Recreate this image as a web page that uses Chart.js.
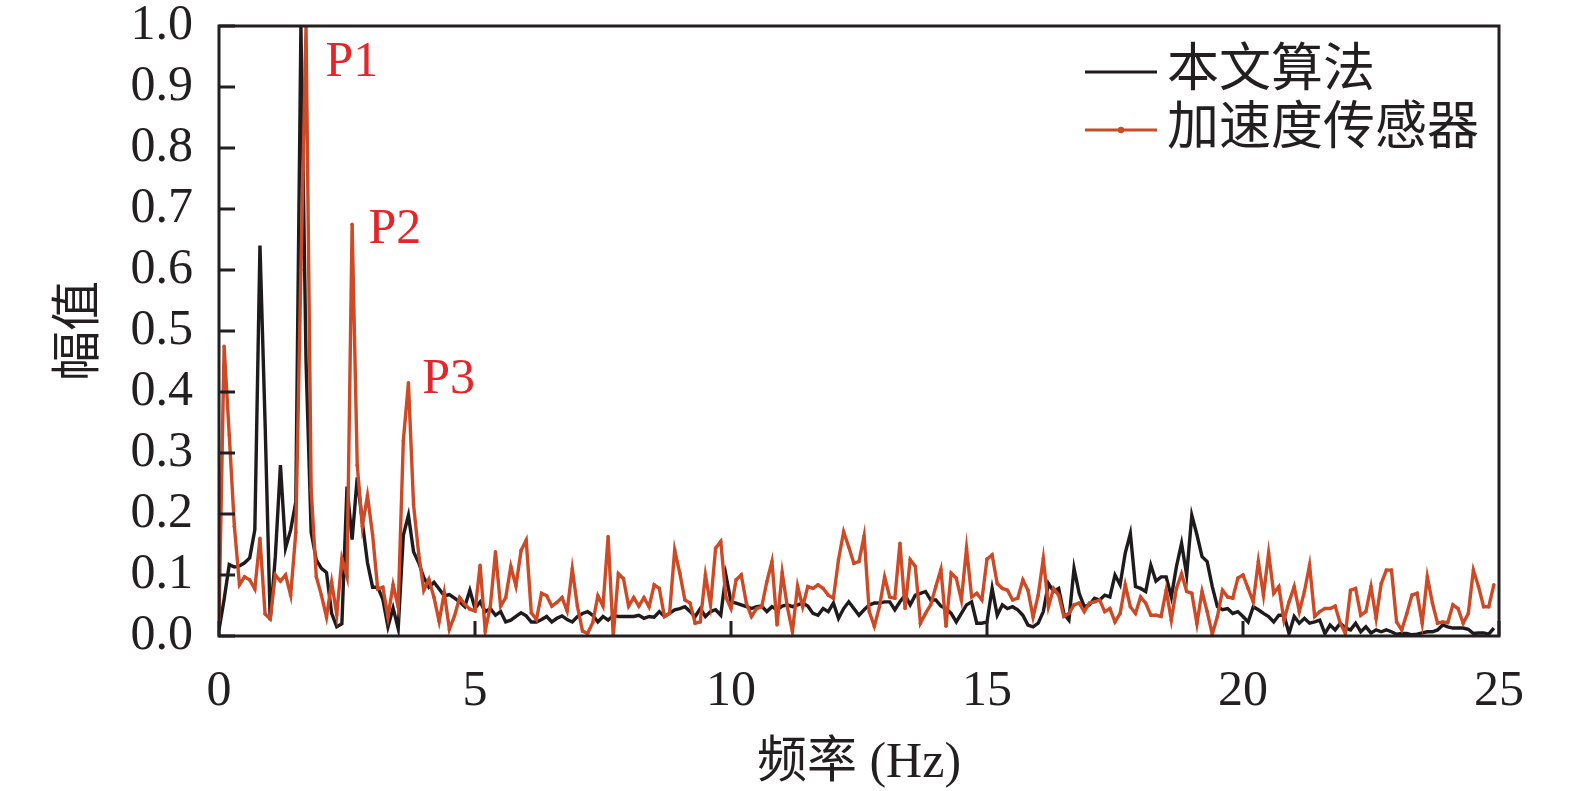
<!DOCTYPE html>
<html>
<head>
<meta charset="utf-8">
<title>频率 幅值</title>
<script src="https://cdn.jsdelivr.net/npm/chart.js@4.4.1/dist/chart.umd.min.js"></script>
<style>
  html, body { margin: 0; padding: 0; background: #fff; }
  #wrap { width: 1575px; height: 791px; position: relative; }
</style>
</head>
<body>
<div id="wrap"><canvas id="specChart"></canvas></div>
<script>
// spectrum sampled every 0.1 Hz, starting at 0 Hz
const freqStep = 0.1;

// 本文算法 (black)
const algoAmp = [
  0.01, 0.06, 0.117, 0.113, 0.115, 0.12, 0.128, 0.174, 0.64, 0.35,
  0.026, 0.13, 0.28, 0.144, 0.174, 0.22, 1.0, 0.45, 0.17, 0.125,
  0.111, 0.104, 0.037, 0.015, 0.02, 0.245, 0.158, 0.26, 0.186, 0.12,
  0.08, 0.08, 0.06, 0.015, 0.046, 0.012, 0.165, 0.198, 0.138, 0.12,
  0.096, 0.08, 0.088, 0.077, 0.066, 0.068, 0.062, 0.056, 0.048, 0.075,
  0.045, 0.056, 0.04, 0.045, 0.034, 0.04, 0.023, 0.026, 0.032, 0.038,
  0.033, 0.023, 0.023, 0.027, 0.032, 0.023, 0.029, 0.033, 0.027, 0.023,
  0.032, 0.037, 0.04, 0.034, 0.023, 0.032, 0.026, 0.034, 0.032, 0.032,
  0.032, 0.032, 0.034, 0.029, 0.032, 0.031, 0.04, 0.032, 0.037, 0.043,
  0.045, 0.048, 0.04, 0.032, 0.045, 0.032, 0.04, 0.043, 0.034, 0.1,
  0.056, 0.054, 0.051, 0.048, 0.045, 0.048, 0.049, 0.04, 0.048, 0.043,
  0.049, 0.051, 0.048, 0.051, 0.054, 0.049, 0.037, 0.034, 0.045, 0.04,
  0.054, 0.029, 0.045, 0.056, 0.045, 0.034, 0.043, 0.051, 0.054, 0.054,
  0.056, 0.056, 0.043, 0.056, 0.067, 0.051, 0.067, 0.07, 0.073, 0.059,
  0.059, 0.049, 0.045, 0.037, 0.023, 0.037, 0.051, 0.056, 0.021, 0.021,
  0.023, 0.078, 0.034, 0.051, 0.045, 0.048, 0.043, 0.034, 0.018, 0.015,
  0.021, 0.04, 0.086, 0.073, 0.078, 0.037, 0.026, 0.111, 0.07, 0.048,
  0.051, 0.062, 0.059, 0.067, 0.064, 0.1, 0.084, 0.136, 0.168, 0.081,
  0.078, 0.073, 0.116, 0.09, 0.097, 0.097, 0.064, 0.114, 0.152, 0.1,
  0.198, 0.166, 0.13, 0.122, 0.081, 0.048, 0.043, 0.045, 0.037, 0.04,
  0.032, 0.023, 0.048, 0.043, 0.037, 0.032, 0.023, 0.034, 0.034, 0.004,
  0.032, 0.021, 0.029, 0.021, 0.023, 0.026, 0.004, 0.018, 0.01, 0.021,
  0.013, 0.01, 0.021, 0.007, 0.015, 0.005, 0.01, 0.007, 0.01, 0.007,
  0.003, 0.004, 0.004, 0.002, 0.003, 0.005, 0.007, 0.007, 0.01, 0.018,
  0.015, 0.013, 0.013, 0.013, 0.011, 0.004, 0.005, 0.005, 0.003, 0.013
];

// 加速度传感器 (orange)
const sensorAmp = [
  0.026, 0.475, 0.33, 0.18, 0.084, 0.097, 0.092, 0.077, 0.16, 0.036,
  0.028, 0.10, 0.09, 0.10, 0.067, 0.17, 0.6, 1.0, 0.24, 0.097,
  0.067, 0.031, 0.088, 0.035, 0.127, 0.097, 0.675, 0.28, 0.18, 0.23,
  0.166, 0.077, 0.08, 0.031, 0.084, 0.048, 0.32, 0.415, 0.215, 0.135,
  0.075, 0.093, 0.063, 0.024, 0.071, 0.011, 0.033, 0.063, 0.052, 0.044,
  0.041, 0.116, 0.008, 0.049, 0.138, 0.049, 0.063, 0.114, 0.082, 0.14,
  0.157, 0.038, 0.027, 0.07, 0.066, 0.049, 0.055, 0.063, 0.041, 0.11,
  0.049, 0.008, 0.004, 0.022, 0.066, 0.049, 0.163, 0.0, 0.102, 0.094,
  0.049, 0.063, 0.049, 0.063, 0.048, 0.084, 0.078, 0.032, 0.037, 0.141,
  0.103, 0.059, 0.054, 0.021, 0.023, 0.1, 0.051, 0.144, 0.155, 0.064,
  0.045, 0.092, 0.1, 0.054, 0.032, 0.045, 0.048, 0.089, 0.122, 0.018,
  0.104, 0.048, 0.007, 0.082, 0.048, 0.081, 0.078, 0.084, 0.078, 0.067,
  0.062, 0.125, 0.171, 0.146, 0.119, 0.122, 0.164, 0.04, 0.016, 0.048,
  0.097, 0.064, 0.062, 0.152, 0.045, 0.125, 0.114, 0.021, 0.037, 0.051,
  0.081, 0.109, 0.016, 0.103, 0.095, 0.059, 0.144, 0.064, 0.07, 0.059,
  0.126, 0.133, 0.086, 0.078, 0.075, 0.059, 0.062, 0.092, 0.075, 0.031,
  0.067, 0.127, 0.048, 0.078, 0.067, 0.032, 0.037, 0.051, 0.054, 0.04,
  0.054, 0.056, 0.059, 0.04, 0.045, 0.023, 0.037, 0.084, 0.048, 0.037,
  0.064, 0.054, 0.034, 0.034, 0.032, 0.075, 0.026, 0.078, 0.102, 0.073,
  0.07, 0.02, 0.073, 0.04, 0.003, 0.032, 0.075, 0.064, 0.062, 0.095,
  0.1, 0.078, 0.056, 0.122, 0.067, 0.136, 0.07, 0.081, 0.026, 0.056,
  0.081, 0.04, 0.073, 0.116, 0.032, 0.04, 0.045, 0.045, 0.049, 0.021,
  0.004, 0.075, 0.078, 0.034, 0.04, 0.081, 0.029, 0.086, 0.108, 0.108,
  0.023, 0.01, 0.037, 0.067, 0.07, 0.021, 0.097, 0.054, 0.021, 0.023,
  0.022, 0.051, 0.045, 0.021, 0.037, 0.108, 0.081, 0.048, 0.048, 0.084
];

const seriesNames = ['本文算法', '加速度传感器'];
const seriesColors = ['#1f1a1b', '#cd4a26'];

// peak labels: text and where they sit (Hz, amplitude)
const peakNames = ['P1', 'P2', 'P3'];
const peakFreq = [2.08, 2.92, 3.97];
const peakAmp = [0.94, 0.665, 0.42];

const xTicks = [0, 5, 10, 15, 20, 25];
const yTicks = [0, 0.1, 0.2, 0.3, 0.4, 0.5, 0.6, 0.7, 0.8, 0.9, 1.0];

const serif = '"Liberation Serif", "Noto Sans CJK SC", serif';
const ink = '#231f20';

const toPoints = arr => arr.map((v, i) => ({ x: +(i * freqStep).toFixed(1), y: v }));

// frame, inward ticks, peak labels and legend
const decorations = {
  id: 'decorations',
  afterDraw(chart) {
    const { ctx, chartArea: a, scales: { x, y } } = chart;
    ctx.save();
    ctx.strokeStyle = ink;
    ctx.lineWidth = 3;
    ctx.beginPath();
    yTicks.forEach(v => {
      const py = y.getPixelForValue(v);
      ctx.moveTo(a.left, py);
      ctx.lineTo(a.left + 16, py);
    });
    xTicks.forEach(v => {
      const px = x.getPixelForValue(v);
      ctx.moveTo(px, a.bottom);
      ctx.lineTo(px, a.bottom - 15);
    });
    ctx.stroke();
    ctx.strokeRect(a.left, a.top, a.right - a.left, a.bottom - a.top);

    ctx.fillStyle = '#e3262b';
    ctx.font = '50px ' + serif;
    ctx.textAlign = 'left';
    ctx.textBaseline = 'middle';
    peakNames.forEach((t, i) => {
      ctx.fillText(t, x.getPixelForValue(peakFreq[i]), y.getPixelForValue(peakAmp[i]));
    });

    // legend
    const lx = a.right - 414, ly = a.top + 46, gap = 58;
    chart.data.datasets.forEach((ds, i) => {
      const yy = ly + i * gap;
      ctx.strokeStyle = ds.borderColor;
      ctx.lineWidth = 3.2;
      ctx.beginPath();
      ctx.moveTo(lx, yy);
      ctx.lineTo(lx + 72, yy);
      ctx.stroke();
      if (ds.pointRadius > 0) {
        ctx.fillStyle = ds.borderColor;
        ctx.beginPath();
        ctx.arc(lx + 36, yy, 3.2, 0, Math.PI * 2);
        ctx.fill();
      }
      ctx.fillStyle = ink;
      ctx.font = '52px ' + serif;
      ctx.fillText(ds.label, lx + 82, yy);
    });
    ctx.restore();
  }
};

new Chart(document.getElementById('specChart'), {
  type: 'line',
  data: {
    datasets: [
      {
        label: seriesNames[0],
        data: toPoints(algoAmp),
        borderColor: seriesColors[0],
        borderWidth: 3.4,
        pointRadius: 0,
        tension: 0,
        order: 2
      },
      {
        label: seriesNames[1],
        data: toPoints(sensorAmp),
        borderColor: seriesColors[1],
        backgroundColor: seriesColors[1],
        borderWidth: 3.4,
        pointRadius: 1.8,
        pointBorderWidth: 0,
        pointBackgroundColor: seriesColors[1],
        tension: 0,
        order: 1
      }
    ]
  },
  options: {
    responsive: true,
    maintainAspectRatio: false,
    animation: false,
    layout: { padding: { top: 0, right: 76, bottom: 0, left: 0 } },
    plugins: {
      legend: { display: false },
      tooltip: { enabled: false }
    },
    scales: {
      x: {
        type: 'linear',
        min: 0,
        max: 25,
        afterFit: s => { s.height = 155; },
        afterBuildTicks: s => { s.ticks = xTicks.map(v => ({ value: v })); },
        grid: { display: false, drawTicks: false },
        border: { display: false },
        ticks: {
          padding: 31,
          color: ink,
          font: { family: serif, size: 50, lineHeight: 1 },
          maxRotation: 0
        },
        title: {
          display: true,
          text: '频率 (Hz)',
          color: ink,
          font: { family: serif, size: 50, lineHeight: 1 },
          padding: { top: 0, bottom: 2 }
        }
      },
      y: {
        min: 0,
        max: 1,
        afterFit: s => { s.width = 219; s.paddingTop = 26; s.paddingBottom = 26; },
        afterBuildTicks: s => { s.ticks = yTicks.map(v => ({ value: v })); },
        grid: { display: false, drawTicks: false },
        border: { display: false },
        ticks: {
          padding: 26,
          color: ink,
          font: { family: serif, size: 50, lineHeight: 1 },
          callback: v => v.toFixed(1)
        },
        title: {
          display: true,
          text: '幅值',
          color: ink,
          font: { family: serif, size: 50, lineHeight: 1.2 },
          padding: { top: 51, bottom: 0 }
        }
      }
    }
  },
  plugins: [decorations]
});
</script>
</body>
</html>
